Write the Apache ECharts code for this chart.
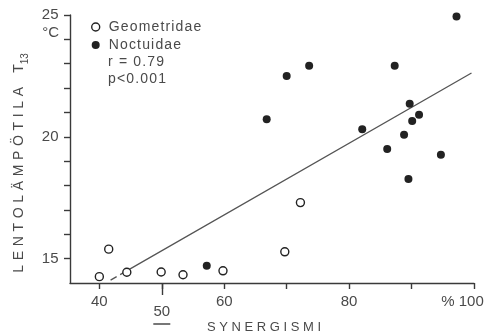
<!DOCTYPE html>
<html>
<head>
<meta charset="utf-8">
<script src="https://cdn.jsdelivr.net/npm/echarts@6/dist/echarts.min.js"></script>
<style>
  html, body { margin: 0; padding: 0; background: #fff; }
  #chart { width: 485px; height: 334px; }
</style>
</head>
<body>
<div id="chart"></div>
<script>
// Geometridae (open circles): synergism % vs flight temperature
const geoX = [40.0, 41.5, 44.4, 49.9, 53.4, 59.8, 69.7, 72.2];
const geoY = [14.26, 15.39, 14.44, 14.45, 14.34, 14.5, 15.28, 17.3];

// Noctuidae (filled circles)
const noctX = [57.2, 66.8, 70.0, 73.6, 82.1, 86.1, 87.3, 88.8, 89.5, 89.7, 90.1, 91.2, 94.7, 97.2];
const noctY = [14.71, 20.72, 22.5, 22.92, 20.31, 19.5, 22.92, 20.08, 18.27, 21.36, 20.65, 20.91, 19.26, 24.94];

// Regression line end points
const fitX = [41.8, 99.6];
const fitY = [14.12, 22.62];

// Axis ticks and labels
const xTicks = [40, 50, 60, 70, 80, 90, 100];
const xLabels = [40, 60, 80, 100];
const xMarked = [50];
const yTicks = [15, 16, 17, 18, 19, 20, 21, 22, 23, 24, 25];
const yLabels = [15, 20, 25];

const stats = ['r = 0.79', 'p<0.001'];

const FONT = "'Liberation Sans', Arial, Helvetica, sans-serif";
const TEXT = '#4a4a4a';
const AXIS = '#3a3a3a';
const INK = '#222';

// spread letters apart with narrow spaces
const spaced = (s, sep) => s.split('').join(sep || '\u200A');

const pairs = (xs, ys) => xs.map((x, i) => [x, ys[i]]);

const chart = echarts.init(document.getElementById('chart'), null, { renderer: 'canvas' });

chart.setOption({
  animation: false,
  backgroundColor: '#fff',
  textStyle: { fontFamily: FONT },
  grid: { left: 70, right: 11, top: 15, bottom: 51, outerBoundsMode: 'none', containLabel: false },
  title: {
    text: stats.map(s => spaced(s)).join('\n'),
    left: 108, top: 54, padding: 0,
    textStyle: { fontSize: 14, fontWeight: 'normal', color: TEXT, lineHeight: 17, fontFamily: FONT }
  },
  legend: {
    orient: 'vertical', left: 91, top: 18, padding: 0, itemGap: 0,
    itemWidth: 8, itemHeight: 8, icon: 'circle',
    formatter: name => spaced(name),
    textStyle: { fontSize: 14, color: TEXT, lineHeight: 18, padding: [0, 0, 0, 4], fontFamily: FONT },
    data: [
      { name: 'Geometridae', itemStyle: { color: '#fff', borderColor: INK, borderWidth: 1.4 } },
      { name: 'Noctuidae', itemStyle: { color: INK, borderWidth: 0 } }
    ]
  },
  xAxis: [
    {
      type: 'value', min: 35.3, max: 100,
      name: spaced('SYNERGISMI', ' '), nameLocation: 'middle', nameGap: 38,
      nameTextStyle: { fontSize: 13, color: TEXT, padding: [0, 16, 0, 0], fontFamily: FONT },
      axisLine: { show: true, lineStyle: { color: AXIS, width: 1.4 } },
      axisTick: { show: true, customValues: xTicks, length: 6, lineStyle: { color: AXIS, width: 1.4 } },
      axisLabel: {
        customValues: xLabels, margin: 11, fontSize: 15, color: TEXT, fontFamily: FONT,
        formatter: v => v === 100 ? '{p|% }100{q| }' : String(v),
        rich: { p: { fontSize: 15, color: TEXT }, q: { width: 23, fontSize: 15 } }
      },
      splitLine: { show: false }
    },
    {
      type: 'value', min: 35.3, max: 100, gridIndex: 0, position: 'bottom',
      axisLine: { show: false },
      axisTick: { show: true, customValues: xMarked, length: 12, lineStyle: { color: AXIS, width: 1.4 } },
      axisLabel: {
        customValues: xMarked, margin: 18,
        formatter: v => '{n|' + v + '}\n{u| }',
        rich: {
          n: { fontSize: 15, color: TEXT, lineHeight: 22, fontFamily: FONT },
          u: { width: 17, height: 1.6, lineHeight: 2, backgroundColor: '#555' }
        }
      },
      splitLine: { show: false }
    }
  ],
  yAxis: {
    type: 'value', min: 14, max: 25,
    name: '{m|' + spaced('LENTOLÄMPÖTILA', '\u2004') + '\u2002\u2002T}{s|13}',
    nameLocation: 'middle', nameRotate: 90, nameGap: 40,
    nameTextStyle: {
      color: TEXT, padding: [0, 28, 0, 0],
      rich: {
        m: { fontSize: 14, color: TEXT, padding: [0, 0, 4, 0], verticalAlign: 'bottom', fontFamily: FONT },
        s: { fontSize: 10, color: TEXT, verticalAlign: 'bottom', fontFamily: FONT }
      }
    },
    axisLine: { show: true, lineStyle: { color: AXIS, width: 1.4 } },
    axisTick: { show: true, customValues: yTicks, length: 6, lineStyle: { color: AXIS, width: 1.4 } },
    axisLabel: { customValues: yLabels, margin: 11.5, fontSize: 15, color: TEXT, fontFamily: FONT },
    splitLine: { show: false }
  },
  graphic: [
    {
      type: 'text', x: 59, y: 33,
      style: { text: '°C', align: 'right', verticalAlign: 'middle', font: '15px ' + FONT, fill: TEXT }
    }
  ],
  series: [
    {
      name: 'fit', type: 'line', data: pairs(fitX, fitY), symbol: 'none', silent: true,
      lineStyle: { color: '#555', width: 1.3, type: [7, 4, 1000, 0] }, z: 1
    },
    {
      name: 'Geometridae', type: 'scatter', data: pairs(geoX, geoY), symbolSize: 8,
      itemStyle: { color: '#fff', borderColor: INK, borderWidth: 1.4, opacity: 1 }, z: 3
    },
    {
      name: 'Noctuidae', type: 'scatter', data: pairs(noctX, noctY), symbolSize: 8,
      itemStyle: { color: INK, opacity: 1 }, z: 3
    }
  ]
});
</script>
</body>
</html>
